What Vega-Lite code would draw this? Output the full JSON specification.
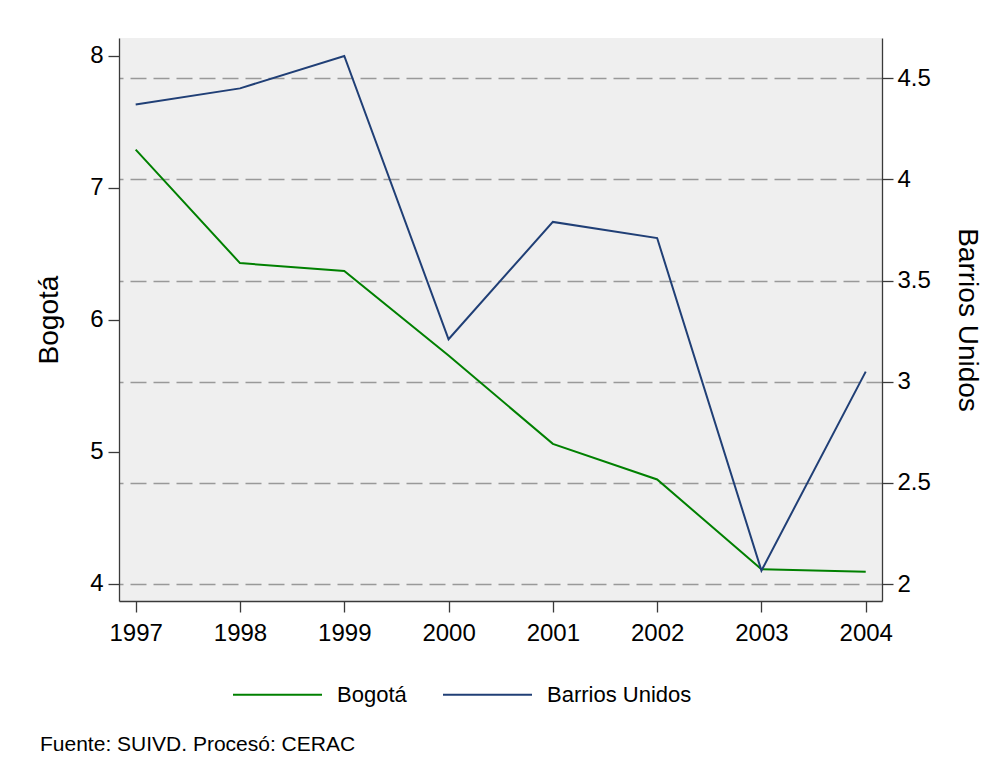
{
  "$schema": "https://vega.github.io/schema/vega-lite/v6.json",
  "width": 763,
  "height": 563,
  "autosize": "none",
  "padding": {"left": 119, "top": 38, "right": 121, "bottom": 179},
  "background": "white",
  "config": {
    "font": "Liberation Sans",
    "view": {"fill": "#efefef", "stroke": null},
    "axis": {
      "domainColor": "#3a3a3a",
      "domainWidth": 1.3,
      "tickColor": "#3a3a3a",
      "tickWidth": 1.3,
      "tickSize": 11,
      "labelColor": "black",
      "labelFontSize": 24,
      "titleColor": "black",
      "titleFontSize": 28,
      "titleFontWeight": "normal",
      "grid": false
    }
  },
  "title": {
    "text": "Fuente: SUIVD. Procesó: CERAC",
    "orient": "bottom",
    "anchor": "start",
    "frame": "group",
    "fontSize": 21,
    "fontWeight": "normal",
    "color": "black",
    "dx": -79,
    "offset": 28
  },
  "data": {
    "values": [
      {"year": 1997, "region": "Bogotá", "value": 7.29},
      {"year": 1998, "region": "Bogotá", "value": 6.43},
      {"year": 1999, "region": "Bogotá", "value": 6.37},
      {"year": 2000, "region": "Bogotá", "value": 5.73},
      {"year": 2001, "region": "Bogotá", "value": 5.06},
      {"year": 2002, "region": "Bogotá", "value": 4.79},
      {"year": 2003, "region": "Bogotá", "value": 4.11},
      {"year": 2004, "region": "Bogotá", "value": 4.09},
      {"year": 1997, "region": "Barrios Unidos", "value": 4.37},
      {"year": 1998, "region": "Barrios Unidos", "value": 4.45},
      {"year": 1999, "region": "Barrios Unidos", "value": 4.61},
      {"year": 2000, "region": "Barrios Unidos", "value": 3.21},
      {"year": 2001, "region": "Barrios Unidos", "value": 3.79},
      {"year": 2002, "region": "Barrios Unidos", "value": 3.71},
      {"year": 2003, "region": "Barrios Unidos", "value": 2.066},
      {"year": 2004, "region": "Barrios Unidos", "value": 3.05}
    ]
  },
  "encoding": {
    "x": {
      "field": "year",
      "type": "quantitative",
      "scale": {"domain": [1996.84, 2004.156], "nice": false, "zero": false},
      "axis": {
        "title": null,
        "values": [1997, 1998, 1999, 2000, 2001, 2002, 2003, 2004],
        "format": "d",
        "labelPadding": 9,
        "labelFlush": false
      }
    },
    "color": {
      "field": "region",
      "type": "nominal",
      "scale": {"domain": ["Bogotá", "Barrios Unidos"], "range": ["#008000", "#203f76"]},
      "legend": {
        "title": null,
        "orient": "none",
        "legendX": 113,
        "legendY": 611,
        "direction": "horizontal",
        "symbolType": "stroke",
        "symbolSize": 7921,
        "symbolStrokeWidth": 2,
        "labelFontSize": 22,
        "labelColor": "black",
        "labelOffset": 14,
        "columnPadding": 32,
        "padding": 0
      }
    }
  },
  "layer": [
    {
      "transform": [{"filter": "datum.region === 'Bogotá'"}],
      "mark": {"type": "line", "strokeWidth": 2},
      "encoding": {
        "y": {
          "field": "value",
          "type": "quantitative",
          "scale": {"domain": [3.869, 8.136], "nice": false, "zero": false},
          "axis": {
            "orient": "left",
            "title": "Bogotá",
            "values": [4, 5, 6, 7, 8],
            "format": "d",
            "labelPadding": 5,
            "titlePadding": 26,
            "labelFlush": false
          }
        }
      }
    },
    {
      "transform": [{"filter": "datum.region === 'Barrios Unidos'"}],
      "mark": {"type": "line", "strokeWidth": 2},
      "encoding": {
        "y": {
          "field": "value",
          "type": "quantitative",
          "scale": {"domain": [1.916, 4.699], "nice": false, "zero": false},
          "axis": {
            "orient": "right",
            "title": "Barrios Unidos",
            "values": [2, 2.5, 3, 3.5, 4, 4.5],
            "format": "~g",
            "labelPadding": 4,
            "titlePadding": 22,
            "labelFlush": false,
            "grid": true,
            "gridColor": "#999999",
            "gridWidth": 1.3,
            "gridDash": [16, 7]
          }
        }
      }
    }
  ],
  "resolve": {"scale": {"y": "independent"}}
}
